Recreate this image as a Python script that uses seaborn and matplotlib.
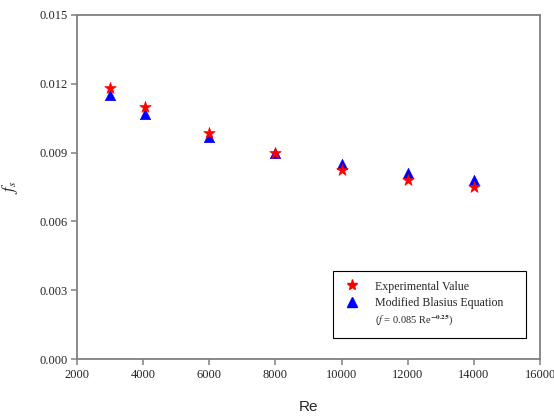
import matplotlib
matplotlib.use("Agg")
import matplotlib.pyplot as plt
from matplotlib.lines import Line2D
import seaborn as sns
import pandas as pd

re_values = [3000, 4050, 6000, 8000, 10000, 12000, 14000]
experimental = [0.01182, 0.01098, 0.00985, 0.00900, 0.00825, 0.00780, 0.00750]
blasius = [0.01149, 0.01069, 0.00966, 0.00899, 0.00850, 0.00812, 0.00781]
x_ticks = [2000, 4000, 6000, 8000, 10000, 12000, 14000, 16000]
y_ticks = [0.000, 0.003, 0.006, 0.009, 0.012, 0.015]

sns.set_style("white")
plt.rcParams['font.family'] = ['Liberation Serif', 'DejaVu Serif']
plt.rcParams['mathtext.fontset'] = 'stix'

df_exp = pd.DataFrame({"Re": re_values, "f": experimental})
df_bl = pd.DataFrame({"Re": re_values, "f": blasius})

fig = plt.figure(figsize=(5.54, 4.16), dpi=100)
ax = fig.add_axes([0.139, 0.137, 0.836, 0.827])

sns.scatterplot(data=df_bl, x="Re", y="f", marker="^", s=55, color="blue",
                edgecolor="blue", linewidth=0.5, ax=ax, zorder=3)
sns.scatterplot(data=df_exp, x="Re", y="f", marker="*", s=75, color="red",
                edgecolor="red", linewidth=0.5, ax=ax, zorder=4)

ax.set_xlim(2000, 16000)
ax.set_ylim(0, 0.015)
ax.set_xticks(x_ticks)
ax.set_yticks(y_ticks)
ax.set_xticklabels([str(t) for t in x_ticks], fontsize=9)
ax.set_yticklabels([f"{t:.3f}" for t in y_ticks], fontsize=9)

for sp in ax.spines.values():
    sp.set_color("#808080")
    sp.set_linewidth(1.3)
    sp.set_visible(True)
ax.tick_params(axis="both", direction="out", length=4, width=1.1, color="#808080",
               bottom=True, left=True, pad=3)

ax.set_xlabel("Re", fontsize=11, family=["Liberation Sans", "DejaVu Sans"], labelpad=14)
ax.set_ylabel(r"$f_s$", fontsize=12, labelpad=14)

handles = [
    Line2D([], [], marker="*", color="red", linestyle="none", markersize=8),
    Line2D([], [], marker="^", color="blue", linestyle="none", markersize=7),
    Line2D([], [], marker="", linestyle="none"),
]
labels = ["Experimental Value", "Modified Blasius Equation",
          r"($f$ = 0.085 Re$^{\mathbf{-0.25}}$)"]
leg = ax.legend(handles, labels, loc="lower left",
                bbox_to_anchor=(0.553, 0.061, 0.417, 0.192), mode="expand",
                borderaxespad=0,
                fontsize=8.6, frameon=True, fancybox=False, edgecolor="black",
                framealpha=1, borderpad=0.8, handletextpad=1.2, labelspacing=0.4,
                handlelength=1.5)
leg.get_frame().set_linewidth(0.8)
leg.get_texts()[2].set_fontsize(7.5)

fig.savefig("out.png", dpi=100)
